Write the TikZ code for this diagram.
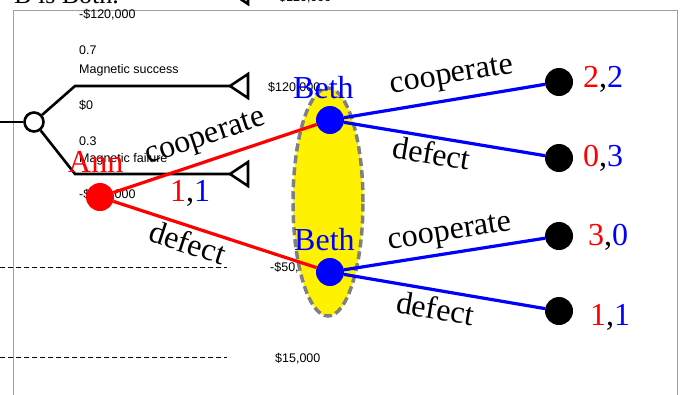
\documentclass[tikz,border=0pt]{standalone}
\usepackage{fontspec}
\setmainfont{Liberation Serif}
\newfontfamily\arialf{Liberation Sans}
\usetikzlibrary{shapes.geometric}
\definecolor{framegray}{RGB}{160,160,160}
\definecolor{dashgray}{RGB}{128,128,128}
\begin{document}
\begin{tikzpicture}[x=1pt,y=-1pt,
  small/.style={font=\arialf\fontsize{12.5}{14}\selectfont, inner sep=0pt, anchor=base west},
  big/.style={font=\fontsize{32}{36}\selectfont, inner sep=0pt, anchor=base west},
  dt/.style={line width=2.6pt, black},
  tri/.style={line width=2.6pt, black, line join=miter},
  player/.style={circle, minimum size=28pt, inner sep=0pt},
  term/.style={circle, fill=black, minimum size=28pt, inner sep=0pt},
  redge/.style={red, line width=3.2pt},
  bedge/.style={blue, line width=3.2pt},
  lab/.style={font=\fontsize{32}{36}\selectfont, text=black, inner sep=0pt, sloped, anchor=base}
]
\useasboundingbox (0,0) rectangle (682,394);
\fill[white] (0,0) rectangle (682,394);
\begin{scope}
\clip (0,0) rectangle (682,394);
% cropped title text at top
\node[font=\fontsize{26}{30}\selectfont, inner sep=0pt, anchor=base west] (title) at (14,3.5) {B is Both.};
% frame
\draw[framegray, line width=1pt] (13,10) -- (677,10);
\draw[framegray, line width=1pt] (13,10) -- (13,400);
\draw[framegray, line width=1pt] (677,10) -- (677,400);
% dashed lines
\coordinate (d1a) at (0,267); \coordinate (d1b) at (227,267);
\coordinate (d2a) at (0,357); \coordinate (d2b) at (227,357);
\draw[line width=1pt, dash pattern=on 5pt off 3pt] (d1a) -- (d1b);
\draw[line width=1pt, dash pattern=on 5pt off 3pt] (d2a) -- (d2b);
% decision tree
\coordinate (in) at (0,122);
\node[circle, draw, line width=2.6pt, minimum size=19pt, inner sep=0pt, fill=white] (chance) at (34,122) {};
\coordinate (u1) at (75,86);
\coordinate (l1) at (75,174);
\coordinate (tipU) at (230,86);
\coordinate (tipL) at (230,174);
\coordinate (tipT) at (230,-8);
\draw[dt] (in) -- (chance);
\draw[dt] (chance) -- (u1) -- (tipU);
\draw[dt] (chance) -- (l1) -- (tipL);
\draw[tri] (tipU) -- ++(18,-12) -- ++(0,24) -- cycle;
\draw[tri] (tipL) -- ++(18,-12) -- ++(0,24) -- cycle;
\draw[tri] (tipT) -- ++(18,-12) -- ++(0,24) -- cycle;
% decision tree texts
\node[small] (v0) at (279,1) {\$120,000};
\node[small] (v1) at (79,18) {-\$120,000};
\node[small] (p1) at (79,54) {0.7};
\node[small] (n1) at (79,73) {Magnetic success};
\node[small] (v2) at (79,109) {\$0};
\node[small] (p2) at (79,145) {0.3};
\node[small] (n2) at (79,162) {Magnetic failure};
\node[small] (v3) at (79,198) {-\$120,000};
\node[small] (v4) at (268,91) {\$120,000};
\node[small] (v5) at (270,271) {-\$50,000};
\node[small] (v6) at (275,362) {\$15,000};
% information set
\node[ellipse, fill=yellow, draw=dashgray, line width=3.5pt, dash pattern=on 8pt off 4pt,
      minimum width=70pt, minimum height=228pt, inner sep=0pt] (info) at (328,202) {};
% game tree nodes
\node[player, fill=red] (ann) at (100,197) {};
\node[player, fill=blue] (b1) at (330,120) {};
\node[player, fill=blue] (b2) at (330,272) {};
\node[term] (t1) at (559,82) {};
\node[term] (t2) at (559,158) {};
\node[term] (t3) at (559,236) {};
\node[term] (t4) at (559,311) {};
% edges
\draw[redge] (ann) -- node[lab, pos=0.49, yshift=16pt] {cooperate} (b1);
\draw[redge] (ann) -- node[lab, pos=0.39, yshift=-27pt] {defect} (b2);
\draw[bedge] (b1) -- node[lab, pos=0.555, yshift=16.5pt] {cooperate} (t1);
\draw[bedge] (b1) -- node[lab, pos=0.45, yshift=-27pt] {defect} (t2);
\draw[bedge] (b2) -- node[lab, pos=0.543, yshift=13pt] {cooperate} (t3);
\draw[bedge] (b2) -- node[lab, pos=0.47, yshift=-29pt] {defect} (t4);
% player labels
\node[big, text=red] (annlab) at (68,172) {Ann};
\node[big, text=blue] (b1lab) at (293,98) {Beth};
\node[big, text=blue] (b2lab) at (294,250) {Beth};
% payoffs
\node[big] (pay0) at (170,201) {\textcolor{red}{1},\textcolor{blue}{1}};
\node[big] (pay1) at (583,87) {\textcolor{red}{2},\textcolor{blue}{2}};
\node[big] (pay2) at (583,166) {\textcolor{red}{0},\textcolor{blue}{3}};
\node[big] (pay3) at (588,245) {\textcolor{red}{3},\textcolor{blue}{0}};
\node[big] (pay4) at (590,325) {\textcolor{red}{1},\textcolor{blue}{1}};
\end{scope}
\end{tikzpicture}
\end{document}
